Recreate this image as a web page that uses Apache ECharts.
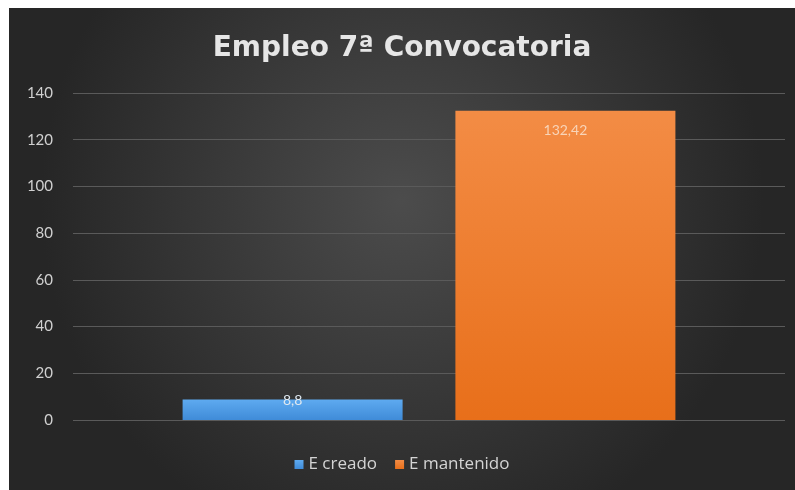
<!DOCTYPE html>
<html><head><meta charset="utf-8">
<script src="https://cdn.jsdelivr.net/npm/echarts@6/dist/echarts.min.js"></script>
<style>
html,body{margin:0;padding:0;background:#fff;width:795px;height:490px;overflow:hidden}
#c{position:absolute;left:9px;top:8px;width:786px;height:482px}
</style></head><body>
<div id="c"></div>
<script>
const categories = ['Empleo'];
const seriesNames = ['E creado', 'E mantenido'];
const creado = [8.8];
const mantenido = [132.42];
const yTicks = [0, 20, 40, 60, 80, 100, 120, 140];

const chart = echarts.init(document.getElementById('c'));
const fmt = p => String(p.value).replace('.', ',');
chart.setOption({
  backgroundColor: {type:'radial', x:0.5, y:0.4, r:0.75,
    colorStops:[{offset:0,color:'#4c4c4c'},{offset:1,color:'#262626'}]},
  title: {text:'Empleo 7ª Convocatoria', left:'center', top:22,
    textStyle:{color:'#e6e6e6', fontSize:28, fontWeight:'bold', fontFamily:'DejaVu Sans'}},
  legend: {bottom:12, left:'center', itemWidth:9, itemHeight:9, itemGap:18,
    icon:'rect', textStyle:{color:'#d4d4d4', fontSize:17, fontFamily:'Open Sans'}},
  grid: {left:64, right:10, top:85, bottom:70},
  xAxis: {type:'category', data:categories, axisLine:{show:false}, axisTick:{show:false}, axisLabel:{show:false}},
  yAxis: {type:'value', min:yTicks[0], max:yTicks[yTicks.length-1], interval:20,
    axisLabel:{color:'#d0d0d0', fontSize:15, fontFamily:'Lato', margin:20},
    splitLine:{lineStyle:{color:'#5a5a5a', width:1}}},
  series: [
    {name:seriesNames[0], type:'bar', data:creado, barWidth:220, barGap:'24%',
     itemStyle:{color:{type:'linear',x:0,y:0,x2:0,y2:1,colorStops:[{offset:0,color:'#5eaaf0'},{offset:1,color:'#3f8bd8'}]}},
     label:{show:true, position:'insideTop', distance:-6, formatter:fmt, color:'#dfe8f0', fontSize:14, fontFamily:'Lato'}},
    {name:seriesNames[1], type:'bar', data:mantenido, barWidth:220,
     itemStyle:{color:{type:'linear',x:0,y:0,x2:0,y2:1,colorStops:[{offset:0,color:'#f38c45'},{offset:1,color:'#e86f1a'}]}},
     label:{show:true, position:'insideTop', distance:13, formatter:fmt, color:'#f8d4b8', fontSize:14, fontFamily:'Lato'}}
  ]
});
</script></body></html>
